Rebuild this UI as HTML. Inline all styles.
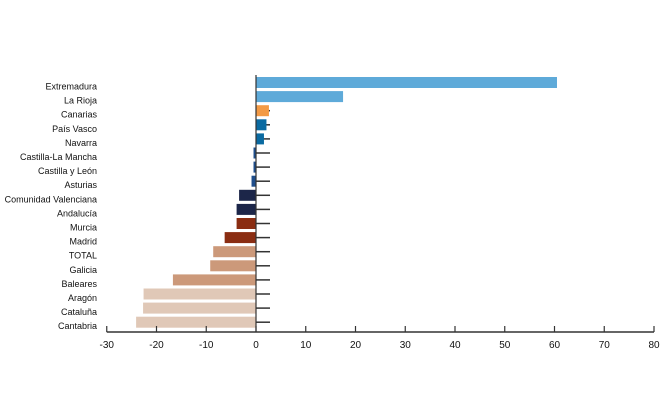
<!DOCTYPE html>
<html><head><meta charset="utf-8"><style>
html,body{margin:0;padding:0;background:#fff;}
svg{display:block;font-family:"Liberation Sans",sans-serif;}
</style></head><body>
<svg id="chart" width="660" height="400" viewBox="0 0 660 400"></svg>
<script>
const categories=["Extremadura","La Rioja","Canarias","País Vasco","Navarra","Castilla-La Mancha","Castilla y León","Asturias","Comunidad Valenciana","Andalucía","Murcia","Madrid","TOTAL","Galicia","Baleares","Aragón","Cataluña","Cantabria"];
const values=[60.5,17.5,2.6,2.1,1.6,-0.5,-0.5,-0.9,-3.4,-3.9,-3.9,-6.3,-8.6,-9.2,-16.7,-22.6,-22.7,-24.1];
const barColors=["#5eaad9","#5eaad9","#f39a45","#0a6aa1","#0a6aa1","#1f4e8c","#1f4e8c","#1f4e8c","#1c2649","#1c2649","#8a2d12","#8a2d12","#cc997a","#cc997a","#cc997a","#e0c8b7","#e0c8b7","#e0c8b7"];
const xTicks=[-30,-20,-10,0,10,20,30,40,50,60,70,80];
const NS="http://www.w3.org/2000/svg";
const svg=document.getElementById('chart');
const x=v=>256+v*4.975;
const rowTop=i=>77+i*14.1;
const bh=11;
function mk(t,a){const e=document.createElementNS(NS,t);for(const k in a)e.setAttribute(k,a[k]);svg.appendChild(e);return e;}
categories.forEach((c,i)=>{
  const tk=mk('line',{x1:x(0),x2:x(0)+14,y1:rowTop(i)+bh/2,y2:rowTop(i)+bh/2,stroke:'#333','stroke-width':1.5});
  
  
});
categories.forEach((c,i)=>{
  const v=values[i];
  const r=mk('rect',{x:Math.min(x(0),x(v)),y:rowTop(i),width:Math.abs(x(v)-x(0)),height:bh,fill:barColors[i]});
  
  
  const t=mk('text',{x:97,y:rowTop(i)+bh+1.5,'text-anchor':'end','font-size':9,fill:'#111'});
  t.textContent=c;
  
  
});
const ya=mk('line',{x1:x(0),x2:x(0),y1:75,y2:332,stroke:'#333','stroke-width':1.2});


const xa=mk('line',{x1:x(-30),x2:x(80),y1:332,y2:332,stroke:'#333','stroke-width':1.5});


xTicks.forEach(v=>{
  const l=mk('line',{x1:x(v),x2:x(v),y1:326,y2:332,stroke:'#333','stroke-width':1.2});
  
  
  const t=mk('text',{x:x(v),y:348,'text-anchor':'middle','font-size':10,fill:'#111'});
  t.textContent=v;
  
  
});
</script>
</body></html>
